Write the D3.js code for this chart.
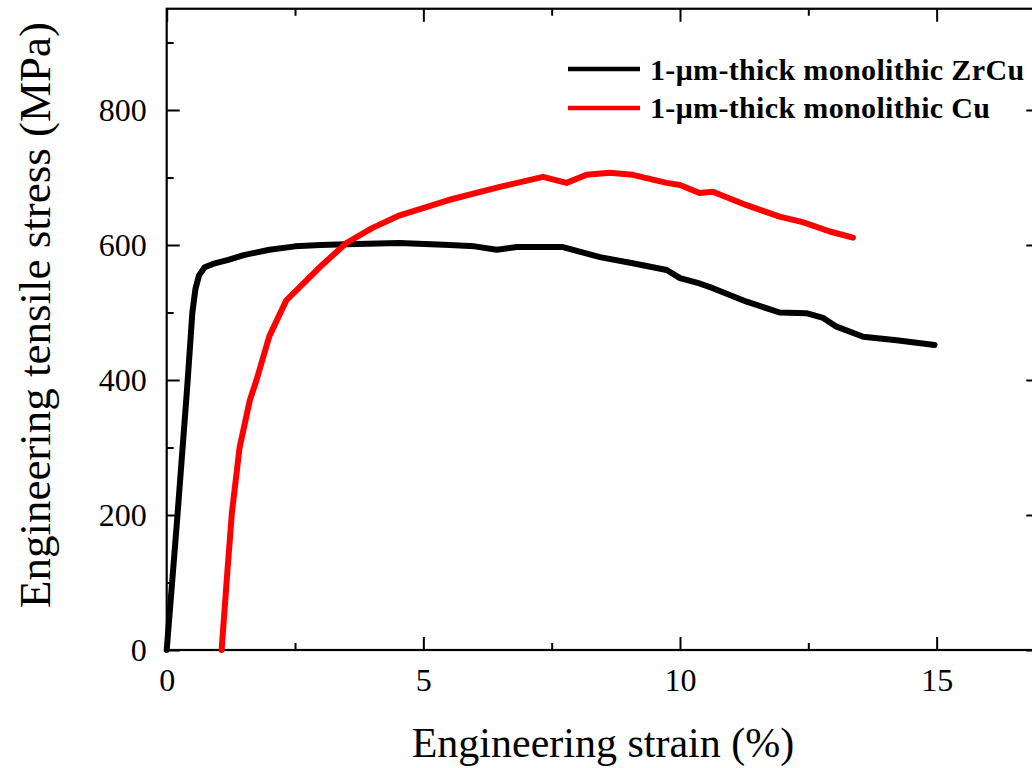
<!DOCTYPE html>
<html>
<head>
<meta charset="utf-8">
<script src="https://cdn.jsdelivr.net/npm/d3@7"></script>
<style>
  body { margin: 0; background: #fff; }
  svg { display: block; }
</style>
</head>
<body>
<script>
// strain (%) and stress (MPa)
const zrcuStrain = [0, 0.2, 0.4, 0.5, 0.56, 0.63, 0.74, 0.9, 1.2, 1.5, 2.0, 2.5, 3.0, 3.5, 4.54, 5.51, 6.0, 6.43, 6.82, 7.72, 8.44, 9.08, 9.74, 10.0, 10.38, 10.64, 11.3, 11.94, 12.46, 12.79, 13.05, 13.57, 14.22, 14.96];
const zrcuStress = [0, 190, 390, 500, 535, 555, 567, 572, 578, 585, 593, 598, 600, 601, 603, 600, 598, 593, 597, 597, 582, 573, 563, 551, 543, 536, 516, 500, 499, 492, 479, 464, 459, 452];

const cuStrain = [1.07, 1.17, 1.27, 1.42, 1.62, 1.75, 2.0, 2.33, 2.98, 3.5, 4.0, 4.54, 5.51, 6.49, 7.33, 7.79, 8.18, 8.63, 9.08, 9.74, 10.0, 10.38, 10.64, 11.3, 11.94, 12.39, 12.92, 13.37];
const cuStress = [0, 104, 203, 300, 370, 400, 465, 518, 567, 603, 625, 644, 667, 686, 701, 692, 704, 707, 704, 692, 689, 677, 679, 659, 642, 634, 620, 611];

const seriesNames = ["1-\u03bcm-thick monolithic ZrCu", "1-\u03bcm-thick monolithic Cu"];
const seriesColors = ["#000000", "#ff0000"];

const xMajor = [0, 5, 10, 15];
const xMinor = [2.5, 7.5, 12.5];
const yMajor = [0, 200, 400, 600, 800];
const yMinor = [100, 300, 500, 700, 900];

const width = 1032, height = 768;
const plotLeft = 166.7, plotRight = 1039.3, plotTop = 8.75, plotBottom = 650;

const svg = d3.select("body").append("svg")
  .attr("width", width)
  .attr("height", height);

const x = d3.scaleLinear().domain([0, 17]).range([plotLeft, plotRight]);
const y = d3.scaleLinear().domain([0, 950]).range([plotBottom, plotTop]);

function styleAxis(g) {
  g.select(".domain").remove();
  g.selectAll("line").attr("stroke", "#000").attr("stroke-width", 2);
  g.selectAll("text")
    .attr("font-family", "'Liberation Serif', 'Times New Roman', serif")
    .attr("font-size", "32px")
    .attr("fill", "#000");
}

// major ticks with labels
svg.append("g").attr("transform", `translate(0,${plotBottom})`)
  .call(d3.axisBottom(x).tickValues(xMajor).tickSize(-13).tickPadding(18).tickFormat(d3.format("d")))
  .call(styleAxis);
svg.append("g").attr("transform", `translate(${plotLeft},0)`)
  .call(d3.axisLeft(y).tickValues(yMajor).tickSize(-13).tickPadding(20).tickFormat(d3.format("d")))
  .call(styleAxis);

// minor ticks and opposite sides
svg.append("g").attr("transform", `translate(0,${plotBottom})`)
  .call(d3.axisBottom(x).tickValues(xMinor).tickSize(-7).tickFormat(""))
  .call(styleAxis);
svg.append("g").attr("transform", `translate(${plotLeft},0)`)
  .call(d3.axisLeft(y).tickValues(yMinor).tickSize(-7).tickFormat(""))
  .call(styleAxis);
svg.append("g").attr("transform", `translate(0,${plotTop})`)
  .call(d3.axisTop(x).tickValues(xMajor).tickSize(-13).tickFormat(""))
  .call(styleAxis);
svg.append("g").attr("transform", `translate(0,${plotTop})`)
  .call(d3.axisTop(x).tickValues(xMinor).tickSize(-7).tickFormat(""))
  .call(styleAxis);
svg.append("g").attr("transform", `translate(${plotRight},0)`)
  .call(d3.axisRight(y).tickValues(yMajor).tickSize(-13).tickFormat(""))
  .call(styleAxis);
svg.append("g").attr("transform", `translate(${plotRight},0)`)
  .call(d3.axisRight(y).tickValues(yMinor).tickSize(-7).tickFormat(""))
  .call(styleAxis);

// frame
svg.append("rect")
  .attr("x", plotLeft).attr("y", plotTop)
  .attr("width", plotRight - plotLeft).attr("height", plotBottom - plotTop)
  .attr("fill", "none")
  .attr("stroke", "#000")
  .attr("stroke-width", 2.2);

const line = d3.line()
  .x(d => x(d[0]))
  .y(d => y(d[1]));

const curves = [
  d3.zip(zrcuStrain, zrcuStress),
  d3.zip(cuStrain, cuStress)
];

svg.selectAll(".curve")
  .data(curves)
  .enter()
  .append("path")
    .attr("class", "curve")
    .attr("d", line)
    .attr("fill", "none")
    .attr("stroke", (d, i) => seriesColors[i])
    .attr("stroke-width", 6)
    .attr("stroke-linejoin", "round")
    .attr("stroke-linecap", "round");

// legend
const legend = svg.append("g");
seriesNames.forEach((name, i) => {
  legend.append("line")
    .attr("x1", 568).attr("x2", 640)
    .attr("y1", 69 + i * 39).attr("y2", 69 + i * 39)
    .attr("stroke", seriesColors[i])
    .attr("stroke-width", 4.5);
  legend.append("text")
    .attr("x", 650)
    .attr("y", 80 + i * 38)
    .attr("font-family", "'Liberation Serif', 'Times New Roman', serif")
    .attr("font-weight", "bold")
    .attr("font-size", "30px")
    .attr("letter-spacing", "0.35px")
    .attr("fill", "#000")
    .text(name);
});

// axis titles
svg.append("text")
  .attr("x", (plotLeft + plotRight) / 2)
  .attr("y", 757)
  .attr("text-anchor", "middle")
  .attr("font-family", "'Liberation Serif', 'Times New Roman', serif")
  .attr("font-size", "42px")
  .attr("fill", "#000")
  .text("Engineering strain (%)");

svg.append("text")
  .attr("transform", "translate(50,315) rotate(-90)")
  .attr("text-anchor", "middle")
  .attr("font-family", "'Liberation Serif', 'Times New Roman', serif")
  .attr("font-size", "45px")
  .attr("fill", "#000")
  .text("Engineering tensile stress (MPa)");
</script>
</body>
</html>
